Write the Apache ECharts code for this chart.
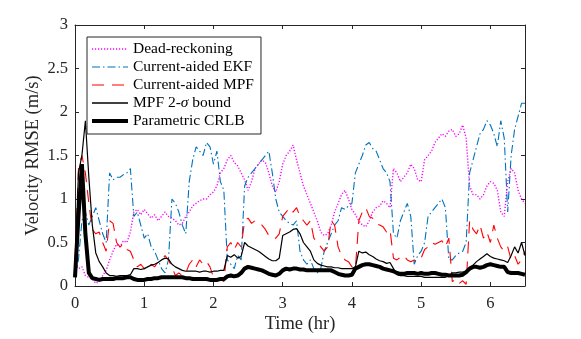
<!DOCTYPE html>
<html>
<head>
<meta charset="utf-8">
<script src="https://cdn.jsdelivr.net/npm/echarts@6/dist/echarts.min.js"></script>
<style>
html,body{margin:0;padding:0;background:#fff;}
#chart{width:581px;height:339px;}
</style>
</head>
<body>
<div id="chart"></div>
<script>
// sample times (hr)
const hours = [0,0.05,0.1,0.15,0.2,0.25,0.3,0.35,0.4,0.45,
  0.5,0.55,0.6,0.65,0.7,0.75,0.8,0.85,0.9,0.95,
  1,1.05,1.1,1.15,1.2,1.25,1.3,1.35,1.4,1.45,
  1.5,1.55,1.6,1.65,1.7,1.75,1.8,1.85,1.9,1.95,
  2,2.05,2.1,2.15,2.2,2.25,2.3,2.35,2.4,2.45,
  2.5,2.55,2.6,2.65,2.7,2.75,2.8,2.85,2.9,2.95,
  3,3.05,3.1,3.15,3.2,3.25,3.3,3.35,3.4,3.45,
  3.5,3.55,3.6,3.65,3.7,3.75,3.8,3.85,3.9,3.95,
  4,4.05,4.1,4.15,4.2,4.25,4.3,4.35,4.4,4.45,
  4.5,4.55,4.6,4.65,4.7,4.75,4.8,4.85,4.9,4.95,
  5,5.05,5.1,5.15,5.2,5.25,5.3,5.35,5.4,5.45,
  5.5,5.55,5.6,5.65,5.7,5.75,5.8,5.85,5.9,5.95,
  6,6.05,6.1,6.15,6.2,6.25,6.3,6.35,6.4,6.45,
  6.5];

// velocity RMSE (m/s)
const deadReckoning = [0.25,0.2,0.22,0.12,0.1,0.08,0.03,0.05,0.12,0.18,
  0.3,0.4,0.48,0.45,0.52,0.5,0.62,0.85,0.88,0.82,
  0.88,0.83,0.78,0.82,0.75,0.8,0.85,0.8,0.78,0.75,
  0.7,0.72,0.8,0.85,0.92,0.95,0.98,1.0,1.0,1.05,
  1.08,1.15,1.3,1.35,1.45,1.5,1.42,1.38,1.3,1.22,
  1.1,1.2,1.35,1.4,1.45,1.42,1.3,1.15,1.08,1.2,
  1.4,1.5,1.55,1.62,1.45,1.3,1.15,1.05,0.95,0.85,
  0.75,0.62,0.58,0.6,0.7,0.85,0.95,1.05,1.1,1.0,
  0.88,0.82,0.75,0.7,0.68,0.75,0.85,0.9,0.92,0.98,
  0.95,0.9,1.35,1.3,1.2,1.25,1.3,1.4,1.35,1.22,
  1.2,1.45,1.5,1.55,1.65,1.7,1.75,1.72,1.78,1.8,
  1.72,1.75,1.85,1.7,1.15,1.05,1.05,1.0,1.05,1.15,
  1.2,1.18,1.1,0.85,0.8,1.2,1.35,1.3,1.1,1.0,
  0.95];

const ekf = [0.1,0.3,0.75,0.85,0.7,0.8,0.9,0.75,0.6,0.5,
  1.3,1.22,1.25,1.25,1.28,1.3,1.35,0.8,0.85,0.7,
  0.55,0.6,0.45,0.4,0.3,0.2,0.15,0.3,1.0,0.95,
  0.85,0.7,0.6,1.2,1.45,1.6,1.55,1.5,1.65,1.6,
  1.4,1.55,1.2,1.1,0.3,0.25,0.2,0.35,0.3,1.15,
  1.25,1.3,1.35,1.4,1.45,1.5,1.55,1.3,1.0,0.85,
  0.8,0.75,0.72,0.7,0.75,0.4,0.3,0.25,0.3,0.2,
  0.15,0.2,0.4,0.5,0.6,0.7,0.75,0.9,0.88,0.92,
  0.95,1.3,1.4,1.5,1.62,1.65,1.58,1.55,1.45,1.35,
  1.3,1.2,0.6,0.55,0.75,0.85,0.95,0.8,0.25,0.35,
  0.4,0.5,0.8,0.85,0.9,0.95,1.0,0.9,0.3,0.3,
  0.35,0.38,0.4,0.5,1.3,1.45,1.6,1.75,1.8,1.9,
  1.85,1.75,1.6,1.9,1.7,0.85,1.5,1.8,1.95,2.1,
  2.1];

const mpf = [0.3,1.35,1.5,1.3,0.95,0.65,0.6,0.62,0.5,0.4,
  0.75,0.72,0.5,0.45,0.48,0.42,0.4,0.3,0.22,0.25,
  0.2,0.18,0.25,0.22,0.28,0.3,0.35,0.3,0.22,0.12,
  0.15,0.12,0.15,0.25,0.3,0.22,0.3,0.25,0.28,0.22,
  0.1,0.05,0.08,0.05,0.45,0.5,0.42,0.5,0.45,0.75,
  0.78,0.72,0.75,0.73,0.7,0.65,0.58,0.55,0.55,0.6,
  0.8,0.85,0.9,0.85,0.9,0.8,0.75,0.7,0.75,0.55,
  0.5,0.45,0.4,0.45,0.75,0.7,0.45,0.35,0.3,0.28,
  0.22,0.2,0.75,0.85,0.9,0.8,0.78,0.72,0.7,0.68,
  0.62,0.65,0.32,0.3,0.33,0.35,0.3,0.28,0.3,0.28,
  0.32,0.42,0.45,0.5,0.48,0.5,0.52,0.45,0.55,0.05,
  0.08,0.03,0.06,0.02,0.75,0.65,0.6,0.7,0.55,0.62,
  0.5,0.7,0.55,0.45,0.4,0.45,0.3,0.35,0.25,0.3,
  0.4];

const mpfBound = [0.2,1.3,1.5,1.9,1.25,0.7,0.38,0.28,0.22,0.15,
  0.12,0.12,0.11,0.12,0.12,0.12,0.13,0.2,0.2,0.19,
  0.2,0.22,0.24,0.25,0.27,0.3,0.32,0.31,0.25,0.22,
  0.2,0.18,0.17,0.17,0.17,0.17,0.16,0.17,0.17,0.16,
  0.17,0.17,0.18,0.18,0.35,0.33,0.36,0.32,0.34,0.5,
  0.46,0.44,0.42,0.4,0.37,0.34,0.31,0.29,0.29,0.32,
  0.58,0.6,0.62,0.65,0.66,0.6,0.5,0.45,0.4,0.3,
  0.26,0.24,0.23,0.22,0.22,0.21,0.21,0.2,0.2,0.2,
  0.2,0.22,0.4,0.38,0.39,0.36,0.34,0.31,0.29,0.28,
  0.26,0.27,0.2,0.13,0.12,0.12,0.11,0.11,0.11,0.11,
  0.11,0.1,0.1,0.1,0.1,0.1,0.1,0.1,0.12,0.15,
  0.15,0.16,0.16,0.17,0.2,0.24,0.28,0.31,0.34,0.37,
  0.34,0.32,0.31,0.3,0.29,0.27,0.35,0.45,0.38,0.5,
  0.35];

const crlb = [0.1,0.8,1.4,0.6,0.15,0.09,0.08,0.07,0.08,0.08,
  0.08,0.08,0.09,0.09,0.09,0.1,0.1,0.08,0.07,0.07,
  0.07,0.08,0.08,0.09,0.09,0.1,0.1,0.1,0.1,0.1,
  0.1,0.1,0.09,0.09,0.08,0.08,0.08,0.08,0.08,0.07,
  0.07,0.07,0.08,0.08,0.11,0.12,0.11,0.12,0.15,0.2,
  0.22,0.21,0.2,0.19,0.18,0.16,0.14,0.13,0.12,0.14,
  0.18,0.2,0.19,0.2,0.2,0.19,0.19,0.18,0.18,0.18,
  0.18,0.18,0.18,0.18,0.18,0.16,0.14,0.13,0.12,0.12,
  0.13,0.2,0.22,0.24,0.25,0.25,0.24,0.23,0.22,0.2,
  0.19,0.18,0.17,0.15,0.14,0.14,0.15,0.15,0.15,0.14,
  0.15,0.14,0.14,0.15,0.15,0.14,0.13,0.13,0.12,0.12,
  0.12,0.12,0.13,0.16,0.2,0.22,0.22,0.21,0.22,0.24,
  0.25,0.24,0.23,0.22,0.22,0.16,0.15,0.15,0.15,0.14,
  0.13];

const font = 'Liberation Serif';
const axisColor = '#262626';

function pairs(vals){
    return hours.map(function(t,i){ return [t, vals[i]]; });
}

function lineSeries(name, vals, color, width, type){
    return {
        name: name,
        type: 'line',
        data: pairs(vals),
        symbol: 'none',
        showSymbol: false,
        lineStyle: {color: color, width: width, type: type},
        itemStyle: {color: color}
    };
}

// box axes: bottom/left carry labels, top/right only ticks
function xAx(pos){
    return {
        type: 'value', position: pos, min: 0, max: 6.5, interval: 1,
        axisLine: {show: true, onZero: false, lineStyle: {color: axisColor, width: 1}},
        axisTick: {show: true, inside: true, length: 4, lineStyle: {color: axisColor}},
        splitLine: {show: false},
        axisLabel: pos === 'bottom' ? {
            fontFamily: font, fontSize: 16.5, color: axisColor, margin: 9,
            formatter: function(v){ return Number.isInteger(v) ? String(v) : ''; }
        } : {show: false},
        name: pos === 'bottom' ? 'Time (hr)' : '',
        nameLocation: 'middle', nameGap: 29, nameMoveOverlap: false,
        nameTextStyle: {fontFamily: font, fontSize: 18.5, color: axisColor}
    };
}
function yAx(pos){
    return {
        type: 'value', position: pos, min: 0, max: 3, interval: 0.5,
        axisLine: {show: true, onZero: false, lineStyle: {color: axisColor, width: 1}},
        axisTick: {show: true, inside: true, length: 4, lineStyle: {color: axisColor}},
        splitLine: {show: false},
        axisLabel: pos === 'left' ? {fontFamily: font, fontSize: 16.5, color: axisColor, margin: 7} : {show: false},
        name: pos === 'left' ? 'Velocity RMSE (m/s)' : '',
        nameLocation: 'middle', nameGap: 32, nameMoveOverlap: false,
        nameTextStyle: {fontFamily: font, fontSize: 18.5, color: axisColor}
    };
}

var chart = echarts.init(document.getElementById('chart'));
var option = {
    animation: false,
    backgroundColor: '#fff',
    grid: {left: 75, right: 56, top: 25, bottom: 50},
    xAxis: [xAx('bottom'), xAx('top')],
    yAxis: [yAx('left'), yAx('right')],
    legend: {
        orient: 'vertical',
        left: 87, top: 37,
        padding: [4, 7, 5, 3],
        itemWidth: 36, itemHeight: 12, itemGap: 2,
        backgroundColor: '#fff',
        borderColor: axisColor, borderWidth: 1,
        itemStyle: {opacity: 0},
        formatter: function(name){
            if (name === 'MPF 2-σ bound') return '{t|MPF 2-}{s|σ}{t| bound}';
            return '{t|' + name + '}';
        },
        textStyle: {
            fontFamily: font, fontSize: 15.5, color: '#000',
            rich: {
                t: {fontFamily: font, fontSize: 15.5, color: '#000'},
                s: {fontFamily: font, fontSize: 15.5, color: '#000', fontStyle: 'italic'}
            }
        },
        data: [
            {name: 'Dead-reckoning', lineStyle: {width: 1.5}},
            {name: 'Current-aided EKF', lineStyle: {width: 1.2}},
            {name: 'Current-aided MPF', lineStyle: {width: 1.2}},
            {name: 'MPF 2-σ bound', lineStyle: {width: 1.3}},
            {name: 'Parametric CRLB', lineStyle: {width: 4}}
        ]
    },
    series: [
        lineSeries('Dead-reckoning', deadReckoning, '#FF00FF', 1.4, [1.2, 1.8]),
        lineSeries('Current-aided EKF', ekf, '#0072BD', 1.1, [8, 3, 1.5, 3]),
        lineSeries('Current-aided MPF', mpf, '#FF0000', 1.1, [12, 8]),
        lineSeries('MPF 2-σ bound', mpfBound, '#000000', 1.2, 'solid'),
        lineSeries('Parametric CRLB', crlb, '#000000', 4, 'solid')
    ]
};
chart.setOption(option);
</script>
</body>
</html>
